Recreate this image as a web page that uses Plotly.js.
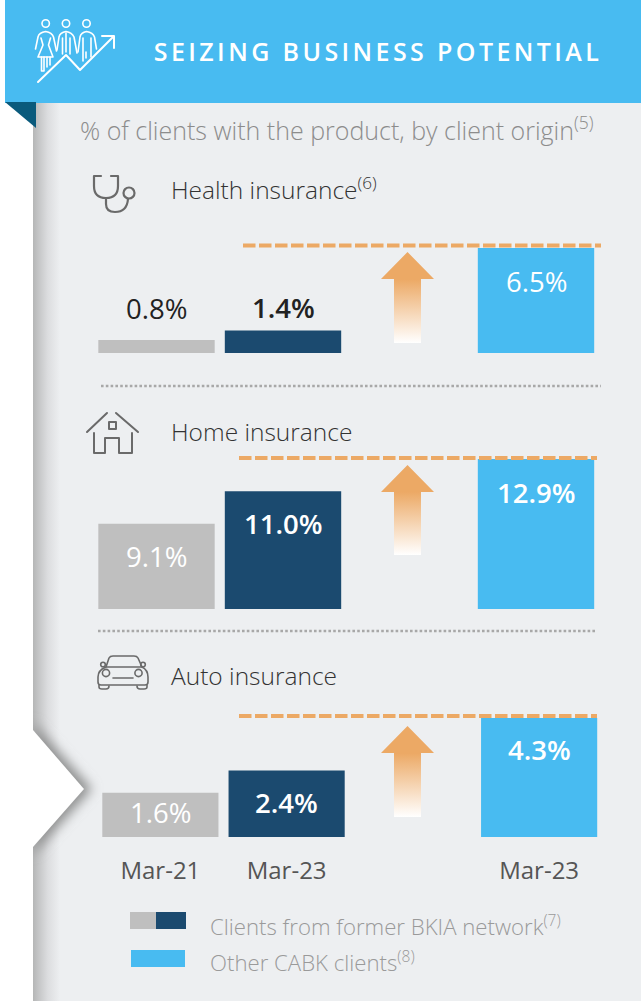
<!DOCTYPE html>
<html>
<head>
<meta charset="utf-8">
<script src="https://cdn.plot.ly/plotly-3.0.1.min.js"></script>
<style>
html,body{margin:0;padding:0;background:#fff;overflow:hidden}
#stage{position:relative;width:641px;height:1001px}
#backdrop{position:absolute;left:0;top:0;width:641px;height:1001px;z-index:0}
#chart{position:absolute;left:0;top:0;width:641px;height:1001px;z-index:1}
</style>
</head>
<body>
<div id="stage">
<div id="backdrop"></div>
<div id="chart"></div>
</div>
<script>
// ---------- data ----------
var categories = ['Mar-21', 'Mar-23', 'gap', 'Mar-23 other'];
var tickLabels = ['Mar-21', 'Mar-23', 'Mar-23'];
var formerCategories = ['Mar-21', 'Mar-23'];
var otherCategories = ['Mar-23 other'];

var healthFormer = [0.8, 1.4];
var healthOther = [6.5];
var homeFormer = [9.1, 11.0];
var homeOther = [12.9];
var autoFormer = [1.6, 2.4];
var autoOther = [4.3];

var sectionTitles = ['Health insurance<sup>(6)</sup>', 'Home insurance', 'Auto insurance'];
var legendLabels = ['Clients from former BKIA network<sup>(7)</sup>', 'Other CABK clients<sup>(8)</sup>'];
var mainTitle = 'SEIZING BUSINESS POTENTIAL';
var subTitle = '% of clients with the product, by client origin<sup>(5)</sup>';

// ---------- style ----------
var W = 641, H = 1001;
var GREY = '#bfbfbf', NAVY = '#1b4a6f', BLUE = '#48bbf1', ORANGE = '#eca965';
var FONT = '"Open Sans", "Noto Sans", sans-serif';
function px(x){return x / W;}
function py(y){return 1 - y / H;}

var panels = [
  {former: healthFormer, other: healthOther, left: 93.25, right: 599.25, top: 248, bottom: 353, floor: 0,
   formerDy: [32, 23], otherDy: [-33], formerWeight: [400, 600], otherWeight: [500],
   formerCol: ['#222222', '#222222'], otherCol: ['#ffffff']},
  {former: homeFormer, other: homeOther, left: 93.25, right: 599.25, top: 459, bottom: 609, floor: 4.08,
   formerDy: [-33, -32], otherDy: [-33], formerWeight: [400, 600], otherWeight: [600],
   formerCol: ['#ffffff', '#ffffff'], otherCol: ['#ffffff']},
  {former: autoFormer, other: autoOther, left: 97.25, right: 602.25, top: 718, bottom: 837, floor: 0,
   formerDy: [-20, -32], otherDy: [-31], formerWeight: [400, 600], otherWeight: [600],
   formerCol: ['#ffffff', '#ffffff'], otherCol: ['#ffffff']}
];

// ---------- backdrop decoration ----------
function arrow(tip, bottom){
  var head = tip + 27;
  return '<path fill="url(#ag)" d="M407.5,' + tip + ' L434,' + head + ' L421,' + head + ' L421,' + bottom + ' L394,' + bottom + ' L394,' + head + ' L381,' + head + ' Z"/>';
}
var iconStroke = 'fill="none" stroke="#6a6a6a" stroke-linecap="round" stroke-linejoin="round"';
var people =
  '<g fill="none" stroke="#fff" stroke-width="1.6" stroke-linecap="round" stroke-linejoin="round">' +
  '<circle cx="45.7" cy="23.5" r="3.7"/><circle cx="66" cy="23.5" r="3.7"/><circle cx="86.5" cy="23.5" r="3.7"/>' +
  '<path d="M35.5,49 L38,37 Q39,32.5 45.7,31.5 Q52,32.5 53.5,37 L56.5,51"/>' +
  '<path d="M41,38 L43,45 L38,57 L53,57 L48.5,45 L50.5,38"/>' +
  '<path d="M41.5,57 V71 H44 V57 M47,57 V67 M50,57 V65"/>' +
  '<path d="M57,50 L59,37 Q60,32.5 66,31.5 Q72,32.5 74,37 L77,53"/>' +
  '<path d="M62.5,38 V54 M70,38 V54 M66,33 V52"/>' +
  '<path d="M78,52 L80,37 Q81,32.5 86.5,31.5 Q93,32.5 94.5,37 L96.5,49"/>' +
  '<path d="M83,38 V61 M91,38 V57 M86,52 V58"/>' +
  '<path stroke-width="2" d="M38,82 L66,55 L80,70 L114,36 M102,36 H114 V48"/>' +
  '</g>';
var stethoscope =
  '<g ' + iconStroke + ' stroke-width="2.2">' +
  '<path d="M101,176 H94 V186 Q94,198 106,198 Q118,198 118,186 V176 H111"/>' +
  '<path d="M106,198 V204 Q106,212 115,212 Q127,212 128,199"/>' +
  '<circle cx="129" cy="193" r="5.5"/></g>';
var house =
  '<g ' + iconStroke + ' stroke-width="2">' +
  '<path d="M87,432 L107,413 M116,413 L138,432"/>' +
  '<path d="M94,433 V453 H105 V438 H119 V453 H132 V433"/>' +
  '<rect x="109" y="422" width="7" height="7"/></g>';
var car =
  '<g ' + iconStroke + ' stroke-width="1.6">' +
  '<path d="M106,667 L109,658 Q110,656 113,656 H134 Q137,656 138,658 L142,667"/>' +
  '<path d="M106,667 H142 Q148,670 148,677 V682 Q148,685 145,685 H101 Q98,685 98,682 V677 Q98,670 106,667 Z"/>' +
  '<circle cx="106" cy="673" r="3.6"/><circle cx="138.5" cy="673" r="3.6"/>' +
  '<circle cx="103" cy="664.5" r="2.3"/><circle cx="143" cy="664.5" r="2.3"/>' +
  '<path d="M113,678 H133"/>' +
  '<path d="M99,685 V687 Q99,689 102,689 H106 Q109,689 109,686 M137,686 Q137,689 140,689 H144 Q147,689 147,687 V685"/>' +
  '</g>';

document.getElementById('backdrop').innerHTML =
  '<svg xmlns="http://www.w3.org/2000/svg" width="' + W + '" height="' + H + '" viewBox="0 0 ' + W + ' ' + H + '">' +
  '<defs>' +
  '<linearGradient id="ag" x1="0" y1="0" x2="0" y2="1">' +
  '<stop offset="0" stop-color="#eca965"/><stop offset="0.3" stop-color="#eca965"/>' +
  '<stop offset="1" stop-color="#ffffff"/></linearGradient>' +
  '<linearGradient id="sg" x1="0" y1="0" x2="1" y2="0">' +
  '<stop offset="0" stop-color="#b5b6b6"/><stop offset="0.2" stop-color="#c4c5c6"/>' +
  '<stop offset="0.55" stop-color="#dcdddf"/><stop offset="1" stop-color="#edeff1"/></linearGradient>' +
  '<filter id="blur" x="-60%" y="-60%" width="220%" height="220%"><feGaussianBlur stdDeviation="6"/></filter>' +
  '<clipPath id="panel"><rect x="33" y="103" width="608" height="898"/></clipPath>' +
  '</defs>' +
  '<rect width="' + W + '" height="' + H + '" fill="#ffffff"/>' +
  '<rect x="33" y="103" width="608" height="898" fill="#edeff1"/>' +
  '<rect x="33" y="103" width="27" height="898" fill="url(#sg)"/>' +
  '<g clip-path="url(#panel)"><path d="M33,722 L92,789 L33,855 Z" fill="#8f9090" filter="url(#blur)"/></g>' +
  '<path d="M33,730 L84,789 L33,847 Z" fill="#ffffff"/>' +
  '<rect x="5" y="0" width="636" height="103" fill="#48bbf1"/>' +
  '<path d="M5,102 H36 V128 Z" fill="#0a5a7c"/>' +
  people + stethoscope + house + car +
  arrow(252, 343) + arrow(465, 555) + arrow(726, 817) +
  '</svg>';

// ---------- traces / axes ----------
var suffix = ['', '2', '3'];
var traces = [], annotations = [];
var layout = {
  width: W, height: H,
  margin: {l: 0, r: 0, t: 0, b: 0, pad: 0},
  paper_bgcolor: 'rgba(0,0,0,0)',
  plot_bgcolor: 'rgba(0,0,0,0)',
  barmode: 'overlay',
  bargap: 0.08,
  showlegend: false,
  font: {family: FONT}
};

function label(axisSuffix, cat, value, dy, weight, color){
  annotations.push({
    xref: 'x' + axisSuffix, yref: 'y' + axisSuffix,
    x: categories.indexOf(cat), y: value,
    yshift: dy,
    yanchor: 'middle', xanchor: 'center', showarrow: false,
    text: value.toFixed(1) + '%',
    font: {family: FONT, size: 27.5, color: color, weight: weight}
  });
}

panels.forEach(function(p, i){
  var s = suffix[i];
  traces.push({
    type: 'bar', name: 'Clients from former BKIA network',
    x: formerCategories, y: p.former, xaxis: 'x' + s, yaxis: 'y' + s,
    marker: {color: [GREY, NAVY], line: {width: 0}}, hoverinfo: 'skip'
  });
  traces.push({
    type: 'bar', name: 'Other CABK clients',
    x: otherCategories, y: p.other, xaxis: 'x' + s, yaxis: 'y' + s,
    marker: {color: BLUE, line: {width: 0}}, hoverinfo: 'skip'
  });
  layout['xaxis' + s] = {
    type: 'category', categoryorder: 'array', categoryarray: categories,
    domain: [px(p.left), px(p.right)], range: [-0.5, 3.5],
    anchor: 'y' + s, fixedrange: true,
    showgrid: false, zeroline: false, showline: false, ticks: '',
    showticklabels: i === 2,
    tickmode: 'array',
    tickvals: [0, 1, 3],
    ticktext: tickLabels,
    tickfont: {family: FONT, size: 24, color: '#555555', weight: 500},
    ticklabelstandoff: 17
  };
  layout['yaxis' + s] = {
    domain: [py(p.bottom), py(p.top)],
    range: [p.floor, p.other[0]],
    anchor: 'x' + s, fixedrange: true,
    showgrid: false, zeroline: false, showline: false, ticks: '', showticklabels: false
  };
  p.former.forEach(function(v, k){
    label(s, formerCategories[k], v, p.formerDy[k], p.formerWeight[k], p.formerCol[k]);
  });
  p.other.forEach(function(v, k){
    label(s, otherCategories[k], v, p.otherDy[k], p.otherWeight[k], p.otherCol[k]);
  });
});

function pageText(text, x, y, size, color, weight, anchor){
  annotations.push({
    xref: 'paper', yref: 'paper', x: px(x), y: py(y),
    xanchor: anchor || 'left', yanchor: 'middle', showarrow: false,
    text: text, font: {family: FONT, size: size, color: color, weight: weight || 300}
  });
}
pageText(mainTitle, 378, 50.5, 25, '#ffffff', 600, 'center');
pageText(subTitle, 78, 128.5, 25, '#8c8c8c', 300);
pageText(sectionTitles[0], 169, 189, 24.5, '#333333', 300);
pageText(sectionTitles[1], 169, 431.5, 24.5, '#333333', 300);
pageText(sectionTitles[2], 169, 675, 24.5, '#333333', 300);
pageText(legendLabels[0], 208, 925, 22.2, '#9a9a9a', 300);
pageText(legendLabels[1], 208, 961, 22.2, '#9a9a9a', 300);
layout.annotations = annotations;

function lineShape(x0, x1, y, color, width, dash){
  return {type: 'line', xref: 'paper', yref: 'paper', x0: px(x0), x1: px(x1), y0: py(y), y1: py(y),
    line: {color: color, width: width, dash: dash}};
}
function rectShape(x0, x1, y0, y1, color){
  return {type: 'rect', xref: 'paper', yref: 'paper', x0: px(x0), x1: px(x1), y0: py(y0), y1: py(y1),
    fillcolor: color, line: {width: 0}};
}
var orangeDash = '12.5px,3.5px', dotDash = '2.6px,2.2px';
layout.shapes = [
  lineShape(243, 601, 245.5, ORANGE, 4, orangeDash),
  lineShape(239, 597, 458, ORANGE, 4, orangeDash),
  lineShape(239, 597, 716, ORANGE, 4, orangeDash),
  lineShape(101, 601, 386, '#a8a8a8', 2.6, dotDash),
  lineShape(98, 597, 631, '#a8a8a8', 2.6, dotDash),
  rectShape(130, 156, 912, 929, GREY),
  rectShape(156, 186, 912, 929, NAVY),
  rectShape(131, 185, 950, 967, BLUE)
];

Plotly.newPlot('chart', traces, layout, {displayModeBar: false, staticPlot: true}).then(function(){
  document.querySelectorAll('.annotation-text').forEach(function(t){
    if (t.textContent === mainTitle) t.style.letterSpacing = '3.4px';
  });
});
</script>
</body>
</html>
